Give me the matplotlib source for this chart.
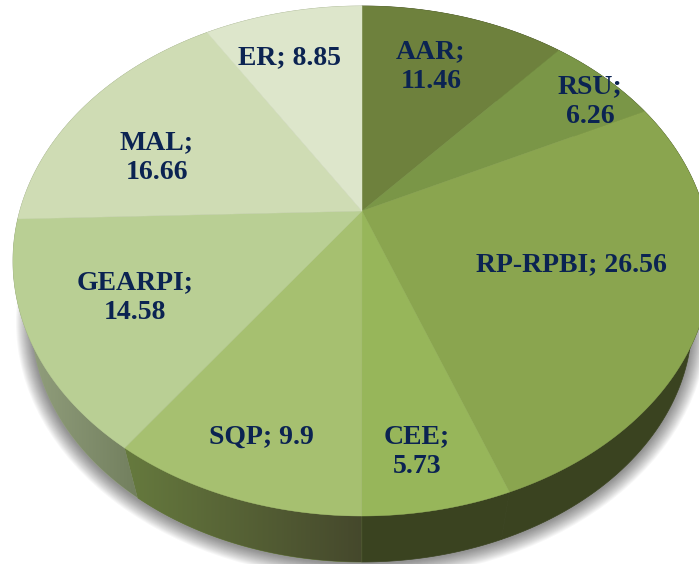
import numpy as np
import matplotlib
matplotlib.use('Agg')
import matplotlib.pyplot as plt
from matplotlib.colors import LinearSegmentedColormap
from matplotlib.patches import Ellipse, Polygon

# parts du camembert, dans le sens horaire depuis le haut
names = ['AAR', 'RSU', 'RP-RPBI', 'CEE', 'SQP', 'GEARPI', 'MAL', 'ER']
values = [11.46, 6.26, 26.56, 5.73, 9.9, 14.58, 16.66, 8.85]
colors = ['#6e813d', '#7a9647', '#8aa54f', '#97b65a',
          '#a6c070', '#b9cf94', '#cfdcb4', '#dde6cb']

# couleur du flanc : gauche, droite
wall_colors = [('#3a4320', '#3a4320'), ('#3a4320', '#3a4320'), ('#3a4320', '#3a4320'),
               ('#3a4320', '#3a4320'), ('#667a3e', '#45482c'), ('#96a381', '#727f5e'),
               ('#96a381', '#96a381'), ('#96a381', '#96a381')]

label_text = ['AAR;\n11.46', 'RSU;\n6.26', 'RP-RPBI; 26.56', 'CEE;\n5.73',
              'SQP; 9.9', 'GEARPI;\n14.58', 'MAL;\n16.66', 'ER; 8.85']
label_pos = [(431, 67), (590, 102), (571, 265), (417, 452),
             (261, 437), (135, 298), (157, 158), (290, 58)]

# ellipse du dessus et du dessous, en pixels
cx, cy, a, b = 362, 261, 349, 255
cy2, a2, b2 = 321, 330, 241
# perspective : le centre du disque est vu plus haut que le centre de l'ellipse
k = 0.196


def project(theta):
    u = np.sin(theta)
    v = np.cos(theta)
    d = 1 + k * v
    return u * np.sqrt(1 - k ** 2) / d, (v + k) / d


def top_xy(theta):
    u, v = project(theta)
    return cx + a * u, cy - b * v


def low_xy(theta):
    u, v = project(theta)
    return cx + a2 * u, cy2 - b2 * v


fig = plt.figure(figsize=(6.99, 5.64), dpi=100)
ax = fig.add_axes([0, 0, 1, 1])
ax.set_xlim(0, 699)
ax.set_ylim(564, 0)
ax.axis('off')

# ombre sous le disque
for g in range(16, 0, -1):
    ax.add_patch(Ellipse((cx, cy2 + 1), 2 * (a2 + g), 2 * (b2 + g), fc='black',
                         ec='none', alpha=0.03, zorder=1))

edges = np.cumsum([0] + values) / sum(values) * 2 * np.pi

# flancs
for i in range(len(values)):
    t = np.linspace(edges[i], edges[i + 1], 80)
    x1, y1 = top_xy(t)
    x2, y2 = low_xy(t)
    pts = np.column_stack([np.r_[x1, x2[::-1]], np.r_[y1, y2[::-1]]])
    c1, c2 = wall_colors[i]
    poly = Polygon(pts, fc=c1, ec=c1, lw=0.5, zorder=2)
    ax.add_patch(poly)
    if c1 != c2:
        cmap = LinearSegmentedColormap.from_list('w', [c1, c2])
        im = ax.imshow(np.linspace(0, 1, 256).reshape(1, -1), cmap=cmap, aspect='auto',
                       extent=[pts[:, 0].min(), pts[:, 0].max(), 564, 0], zorder=2.5)
        im.set_clip_path(poly)
ax.set_xlim(0, 699)
ax.set_ylim(564, 0)

# dessus
apex = (cx, cy - b * k)
for i in range(len(values)):
    t = np.linspace(edges[i], edges[i + 1], 120)
    x, y = top_xy(t)
    pts = np.column_stack([np.r_[apex[0], x], np.r_[apex[1], y]])
    ax.add_patch(Polygon(pts, fc=colors[i], ec=colors[i], lw=0.3, zorder=3))

for txt, pos in zip(label_text, label_pos):
    ax.text(pos[0], pos[1], txt, ha='center', va='center', family='Liberation Serif',
            fontweight='bold', fontsize=20, color='#0b2352', linespacing=1.25, zorder=5)

fig.savefig('out.png', dpi=100)
